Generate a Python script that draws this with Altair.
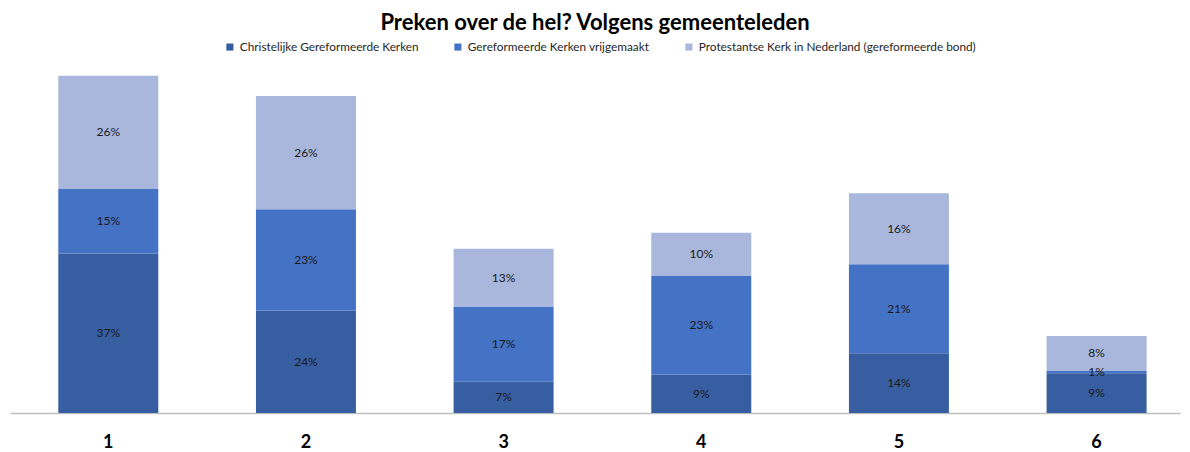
import altair as alt
import pandas as pd

categories = ["1", "2", "3", "4", "5", "6"]
series_names = [
    "Christelijke Gereformeerde Kerken",
    "Gereformeerde Kerken vrijgemaakt",
    "Protestantse Kerk in Nederland (gereformeerde bond)",
]
christelijke = [36.9, 23.7, 7.2, 8.9, 13.8, 9.2]
vrijgemaakt = [14.9, 23.4, 17.4, 22.9, 20.6, 0.6]
pkn = [26.2, 26.2, 13.4, 9.9, 16.4, 8.0]
colors = ["#375EA0", "#4472C4", "#A9B7DC"]

rows = []
for s_idx, (name, vals) in enumerate(zip(series_names, [christelijke, vrijgemaakt, pkn])):
    for c, v in zip(categories, vals):
        rows.append({"cat": c, "series": name, "value": v, "ord": s_idx})
df = pd.DataFrame(rows)

FONT = "Lato"

x_enc = alt.X(
    "cat:N",
    sort=categories,
    scale=alt.Scale(paddingInner=0.494, paddingOuter=0.2066, align=0.591),
    axis=alt.Axis(
        title=None, labelAngle=0, ticks=False, grid=False,
        domainColor="#BFBFBF", domainWidth=1.5,
        labelFont=FONT, labelFontSize=18, labelFontWeight="bold",
        labelColor="#000000", labelPadding=20,
    ),
)
y_scale = alt.Scale(domain=[0, 80], nice=False)

bars = alt.Chart(df).mark_bar(size=100).encode(
    x=x_enc,
    y=alt.Y("value:Q", stack="zero", scale=y_scale, axis=None),
    color=alt.Color(
        "series:N",
        scale=alt.Scale(domain=series_names, range=colors),
        sort=series_names,
        legend=alt.Legend(
            title=None, orient="none", direction="horizontal",
            legendX=214, legendY=-26,
            symbolType="square", symbolSize=50, symbolStrokeWidth=0,
            labelFont=FONT, labelFontSize=11.8, labelColor="#262626",
            labelLimit=500, columnPadding=33, labelOffset=4,
        ),
    ),
    order=alt.Order("ord:Q"),
)

labels = alt.Chart(df).transform_stack(
    stack="value", groupby=["cat"], as_=["v0", "v1"],
    sort=[alt.SortField("ord", order="ascending")],
).transform_calculate(
    mid="(datum.v0 + datum.v1) / 2",
    label="format(datum.value, '.0f') + '%'",
).mark_text(font=FONT, fontSize=12, color="#1a1a1a").encode(
    x=alt.X("cat:N", sort=categories),
    y=alt.Y("mid:Q", scale=y_scale, axis=None),
    text="label:N",
)

chart = alt.layer(bars, labels).properties(
    width=1170,
    height=346,
    autosize=alt.AutoSizeParams(type="none"),
    padding={"left": 2, "top": 59, "right": 2, "bottom": 40},
    title=alt.TitleParams(
        "Preken over de hel? Volgens gemeenteleden",
        font=FONT, fontSize=22, fontWeight="bold", color="#000000",
        anchor="middle", offset=6,
    ),
).configure_view(stroke=None)

chart.save("out.html", embed_options={"renderer": "svg", "actions": False})
